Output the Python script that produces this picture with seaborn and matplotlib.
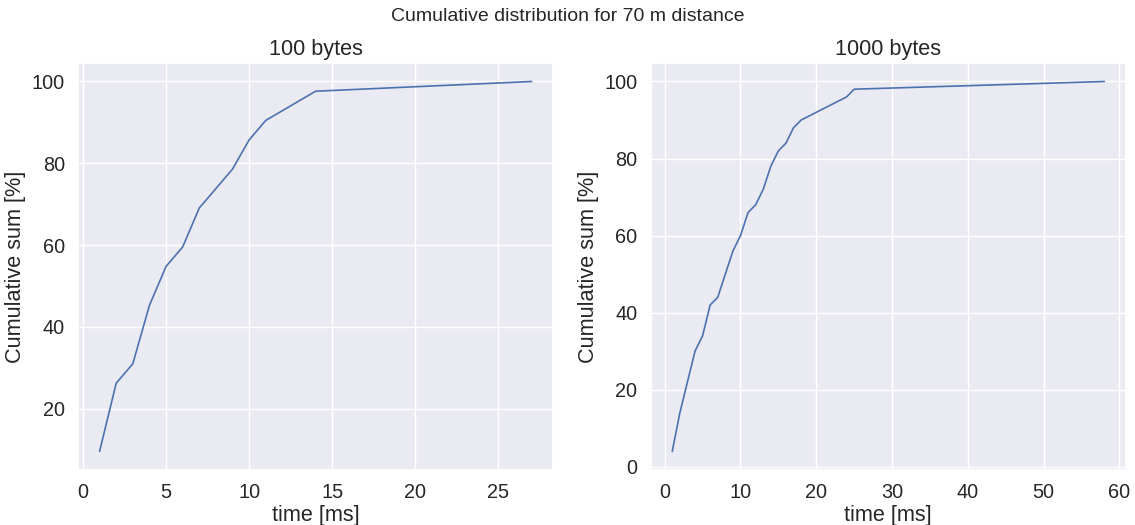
import matplotlib
matplotlib.use("Agg")
import matplotlib.pyplot as plt
import seaborn as sns
import pandas as pd

# 100 bytes
time_100 = [1, 2, 3, 4, 5, 6, 7, 9, 10, 11, 14, 27]
cum_100 = [9.52, 26.19, 30.95, 45.24, 54.76, 59.52, 69.05, 78.57, 85.71, 90.48, 97.62, 100.0]

# 1000 bytes
time_1000 = [1, 2, 4, 5, 6, 7, 9, 10, 11, 12, 13, 14, 15, 16, 17, 18, 24, 25, 58]
cum_1000 = [4, 14, 30, 34, 42, 44, 56, 60, 66, 68, 72, 78, 82, 84, 88, 90, 96, 98, 100]

titles = ["100 bytes", "1000 bytes"]
suptitle = "Cumulative distribution for 70 m distance"
xlabel = "time [ms]"
ylabel = "Cumulative sum [%]"

sns.set_theme(style="darkgrid", font_scale=1.3)
plt.rcParams["font.family"] = ["Liberation Sans", "DejaVu Sans"]

fig, axes = plt.subplots(1, 2, figsize=(11.35, 5.25), dpi=100)
fig.subplots_adjust(left=0.0687, right=0.992, bottom=0.105, top=0.88, wspace=0.205)

for ax, t, c, title in zip(axes, [time_100, time_1000], [cum_100, cum_1000], titles):
    df = pd.DataFrame({"time": t, "cum": c})
    sns.lineplot(data=df, x="time", y="cum", ax=ax, linewidth=1.2)
    ax.set_title(title)
    ax.set_xlabel(xlabel, labelpad=2)
    ax.set_ylabel(ylabel)

axes[1].set_yticks([0, 20, 40, 60, 80, 100])
fig.suptitle(suptitle, fontsize=14, y=0.985)

fig.savefig("out.png", dpi=100)
